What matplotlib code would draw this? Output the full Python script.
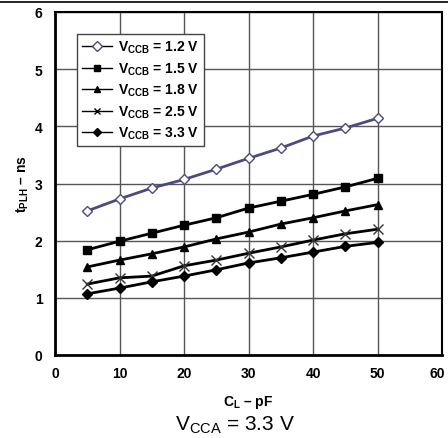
import matplotlib
matplotlib.use("Agg")
import matplotlib.pyplot as plt
import matplotlib.transforms as mtransforms
from matplotlib.lines import Line2D

plt.rcParams["font.family"] = ["Liberation Sans", "DejaVu Sans"]
plt.rcParams["mathtext.fontset"] = "custom"
plt.rcParams["mathtext.rm"] = "Liberation Sans"
plt.rcParams["mathtext.bf"] = "Liberation Sans:bold"

cl = [5, 10, 15, 20, 25, 30, 35, 40, 45, 50]
t_12 = [2.52, 2.73, 2.92, 3.07, 3.25, 3.44, 3.62, 3.83, 3.97, 4.14]
t_15 = [1.84, 1.99, 2.13, 2.27, 2.40, 2.57, 2.69, 2.81, 2.94, 3.09]
t_18 = [1.54, 1.66, 1.77, 1.89, 2.03, 2.15, 2.29, 2.40, 2.52, 2.63]
t_25 = [1.24, 1.35, 1.38, 1.56, 1.66, 1.78, 1.89, 2.01, 2.12, 2.20]
t_33 = [1.07, 1.17, 1.28, 1.38, 1.49, 1.61, 1.70, 1.80, 1.90, 1.97]
labels = ["1.2", "1.5", "1.8", "2.5", "3.3"]

fig = plt.figure(figsize=(4.48, 4.39), dpi=100)
ax = fig.add_axes([55 / 448, 1 - 356 / 439, 387 / 448, 343 / 439])

ax.plot(cl, t_12, color="#4b4a82", lw=2, marker="D", ms=5, mfc="white", mec="#4b4a82", mew=1, zorder=3)
ax.plot(cl, t_15, color="black", lw=2, marker="s", ms=6, zorder=3)
ax.plot(cl, t_18, color="black", lw=2, marker="^", ms=6, zorder=3)
ax.plot(cl, t_25, color="black", lw=2, marker="x", ms=7, mec="#333333", mew=1, zorder=3)
ax.plot(cl, t_33, color="black", lw=2, marker="D", ms=5, zorder=3)

ax.set_xlim(0, 60)
ax.set_ylim(0, 6)
ax.set_xticks(range(0, 61, 10))
ax.set_yticks(range(0, 7))
ax.grid(True, color="#555555", lw=1)
ax.tick_params(length=0, labelsize=10)
ax.tick_params(axis="y", pad=9)
ax.tick_params(axis="x", pad=8)
for lab in ax.get_xticklabels() + ax.get_yticklabels():
    lab.set_fontweight("bold")
# last x label sits a little left of its grid line, as in the reference
last = ax.get_xticklabels()[-1]
last.set_transform(last.get_transform() + mtransforms.ScaledTranslation(-5 / 100, 0, fig.dpi_scale_trans))
for s in ax.spines.values():
    s.set_linewidth(1.5)
ax.spines["left"].set_linewidth(2)
ax.spines["bottom"].set_linewidth(2)

ax.set_xlabel(r"$\mathbf{C_L}$" + " \u2013 pF", fontsize=10, fontweight="bold", labelpad=9)
ax.set_ylabel(r"$\mathbf{t_{PLH}}$" + " \u2013 ns", fontsize=10, fontweight="bold", labelpad=3)

# legend
handles = [
    Line2D([], [], color="black", lw=1, marker="D", ms=5, mfc="white", mec="#4b4a82"),
    Line2D([], [], color="black", lw=1, marker="s", ms=5),
    Line2D([], [], color="black", lw=1, marker="^", ms=5),
    Line2D([], [], color="black", lw=1, marker="x", ms=5),
    Line2D([], [], color="black", lw=1, marker="D", ms=4),
]
leg = ax.legend(handles, [r"$\mathbf{V_{CCB}}$" + " = %s V" % v for v in labels],
                loc="upper left", bbox_to_anchor=(22 / 387, 1 - 22 / 343),
                fancybox=False, framealpha=1, edgecolor="#444444",
                prop={"size": 10, "weight": "bold"}, handlelength=2.2,
                labelspacing=0.37, borderpad=0.35, handletextpad=0.4,
                borderaxespad=0)
leg.get_frame().set_linewidth(1)

fig.add_artist(Line2D([0, 1], [1 - 3 / 439, 1 - 3 / 439], color="black", lw=1.2))
fig.text(235 / 448, 1 - 425 / 439, r"$\mathregular{V_{CCA}}$ = 3.3 V", fontsize=15, ha="center", va="center")

fig.savefig("out.png", dpi=100)
